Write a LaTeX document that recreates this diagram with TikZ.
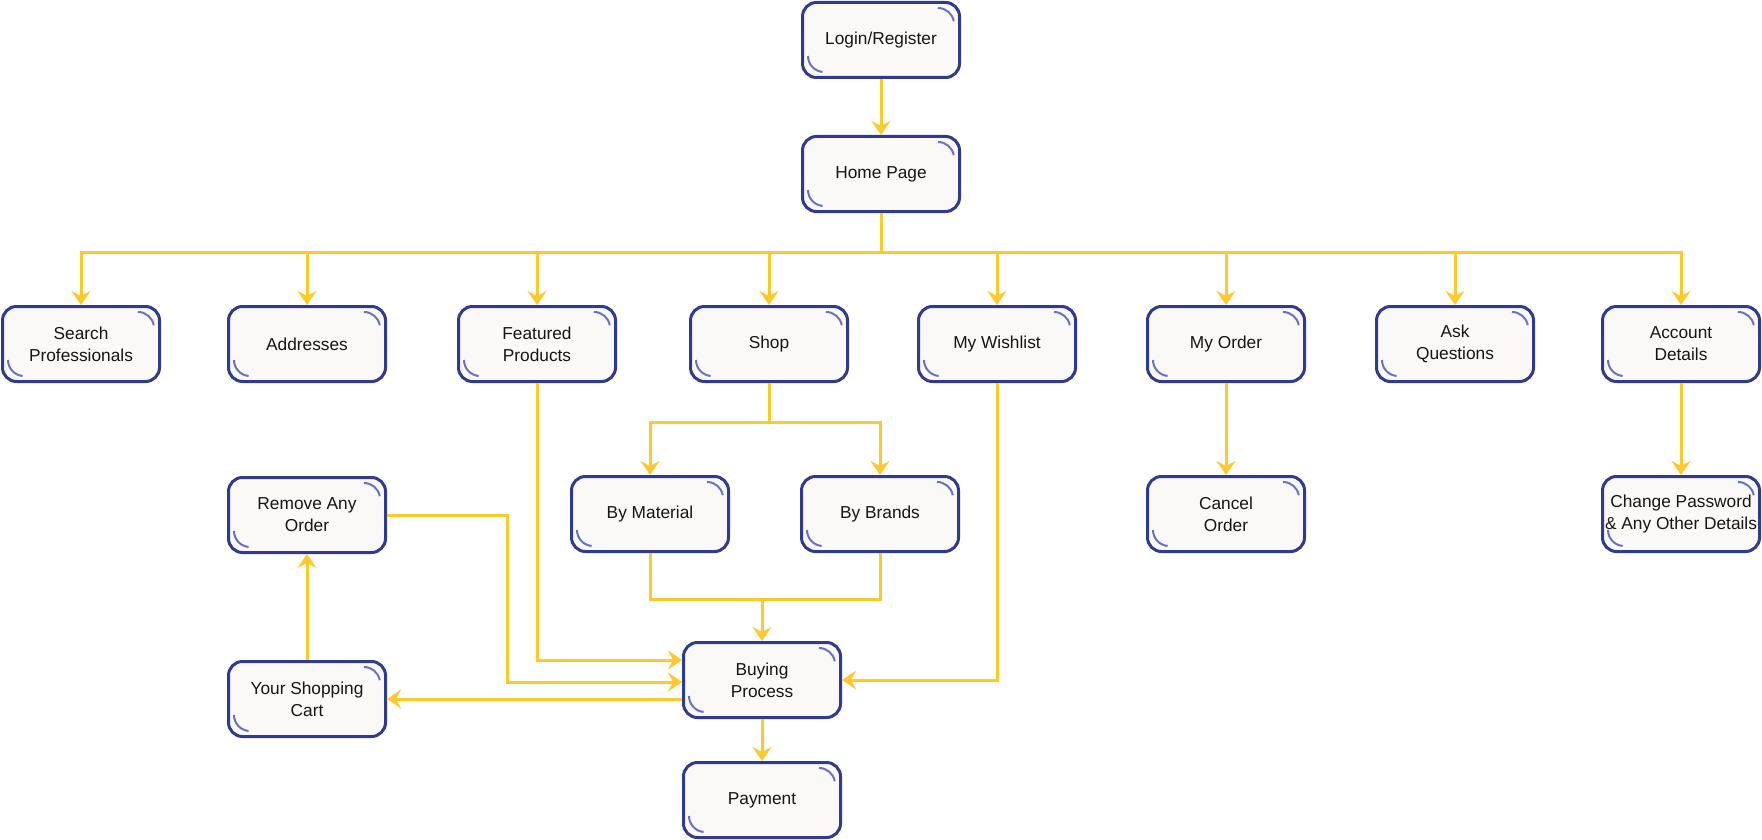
\documentclass[tikz,border=0pt]{standalone}
\usepackage{fontspec}
\setmainfont{Liberation Sans}
\usetikzlibrary{arrows.meta}
\definecolor{bordblue}{HTML}{2F3A91}
\definecolor{arcblue}{HTML}{6A70C8}
\definecolor{boxfill}{HTML}{FAF9F7}
\definecolor{flowyellow}{HTML}{FFC92B}
\definecolor{txt}{HTML}{151515}
\tikzset{
  box/.style={rectangle, rounded corners=14pt, minimum width=157pt, minimum height=75pt,
    draw=bordblue, line width=3pt, fill=boxfill, align=center, text=txt, inner sep=2pt,
    font=\fontsize{17.3}{22}\selectfont,
    path picture={
      \draw[arcblue, line width=2pt]
        ([xshift=-21.5pt,yshift=-5.5pt]path picture bounding box.north east) arc(90:10:16pt);
      \draw[arcblue, line width=2pt]
        ([xshift=5.5pt,yshift=21.5pt]path picture bounding box.south west) arc(180:265:16pt);
    }},
  conn/.style={draw=flowyellow, line width=3pt},
  arr/.style={conn, -{Stealth[length=14pt,width=19pt,inset=5pt]}}
}
\begin{document}
\begin{tikzpicture}[x=1pt,y=1pt]
\useasboundingbox (0,0) rectangle (1762,-840);
% nodes
\node[box] (login) at (881,-40) {Login/Register};
\node[box] (home) at (881,-174) {Home Page};
\node[box] (search) at (81,-344) {Search\\Professionals};
\node[box] (addr) at (307,-344) {Addresses};
\node[box] (feat) at (537,-344) {Featured\\Products};
\node[box] (shop) at (769,-344) {Shop};
\node[box] (wish) at (997,-344) {My Wishlist};
\node[box] (order) at (1226,-344) {My Order};
\node[box] (ask) at (1455,-344) {Ask\\Questions};
\node[box] (acct) at (1681,-344) {Account\\Details};
\node[box] (remove) at (307,-515) {Remove Any\\Order};
\node[box] (material) at (650,-514) {By Material};
\node[box] (brands) at (880,-514) {By Brands};
\node[box] (cancel) at (1226,-514) {Cancel\\Order};
\node[box] (change) at (1681,-514) {Change Password\\\& Any Other Details};
\node[box] (buying) at (762,-680) {Buying\\Process};
\node[box] (cart) at (307,-699) {Your Shopping\\Cart};
\node[box] (payment) at (762,-800) {Payment};
% helper coordinates
\coordinate (bus) at (881,-252);
\coordinate (shopsplit) at (769,-422);
\coordinate (merge) at (762,-599);
\coordinate (rmturn) at (507,-515);
% connectors
\draw[arr] (login.south) -- (home.north);
\draw[conn] (home.south) -- (bus);
\foreach \n in {search,addr,feat,shop,wish,order,ask,acct}
  \draw[arr] (bus) -| (\n.north);
\draw[conn] (shop.south) -- (shopsplit);
\draw[arr] (shopsplit) -| (material.north);
\draw[arr] (shopsplit) -| (brands.north);
\draw[conn] (material.south) |- (merge);
\draw[conn] (brands.south) |- (merge);
\draw[arr] (merge) -- (buying.north);
\draw[arr] (feat.south) |- ([yshift=20pt]buying.west);
\draw[arr] (remove.east) -- (rmturn) |- ([yshift=-2pt]buying.west);
\draw[arr] ([yshift=-19pt]buying.west) -- (cart.east);
\draw[arr] (cart.north) -- (remove.south);
\draw[arr] (wish.south) |- (buying.east);
\draw[arr] (buying.south) -- (payment.north);
\draw[arr] (order.south) -- (cancel.north);
\draw[arr] (acct.south) -- (change.north);
\end{tikzpicture}
\end{document}
